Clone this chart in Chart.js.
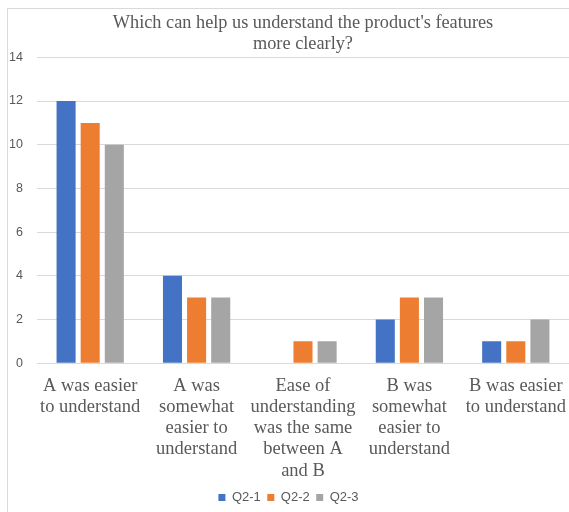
<!DOCTYPE html>
<html>
<head>
<meta charset="utf-8">
<script src="https://cdn.jsdelivr.net/npm/chart.js@4"></script>
<style>
html, body { margin: 0; padding: 0; background: #fff; }
#frame { position: absolute; left: 7px; top: 8px; width: 570px; height: 510px; border-left: 1px solid #d9d9d9; border-top: 1px solid #d9d9d9; }
#wrap { position: absolute; left: 0; top: 0; width: 569px; height: 512px; }
</style>
</head>
<body>
<div id="frame"></div>
<div id="wrap"><canvas id="c"></canvas></div>
<script>
const categories = [
  ['A was easier', 'to understand'],
  ['A was', 'somewhat', 'easier to', 'understand'],
  ['Ease of', 'understanding', 'was the same', 'between A', 'and B'],
  ['B was', 'somewhat', 'easier to', 'understand'],
  ['B was easier', 'to understand']
];
const seriesNames = ['Q2-1', 'Q2-2', 'Q2-3'];
const q21 = [12, 4, 0, 2, 1];
const q22 = [11, 3, 1, 3, 1];
const q23 = [10, 3, 1, 3, 2];
const colors = ['#4472c4', '#ed7d31', '#a5a5a5'];
const yTicks = [0, 2, 4, 6, 8, 10, 12, 14];

const serif = '"Liberation Serif", "DejaVu Serif", serif';
const sans = '"Liberation Sans", "DejaVu Sans", sans-serif';

const ctx = document.getElementById('c').getContext('2d');
new Chart(ctx, {
  type: 'bar',
  data: {
    labels: categories,
    datasets: [q21, q22, q23].map(function(d, i) {
      return { label: seriesNames[i], data: d, backgroundColor: colors[i], categoryPercentage: 0.68, barPercentage: 0.79 };
    })
  },
  options: {
    responsive: true, maintainAspectRatio: false, animation: false,
    layout: { padding: { left: 8, right: 0, top: 6, bottom: -2 } },
    plugins: {
      title: { display: true, fullSize: false, text: ["Which can help us understand the product's features", 'more clearly?'], color: '#595959', font: { family: serif, size: 18.3, weight: 'normal', lineHeight: 1.13 }, padding: { top: 7, bottom: 3 } },
      legend: { position: 'bottom', labels: { boxWidth: 7, boxHeight: 7, padding: 6.5, color: '#595959', font: { family: sans, size: 13 } } },
      tooltip: { enabled: false }
    },
    scales: {
      x: {
        grid: { display: false },
        border: { display: false },
        ticks: { color: '#595959', font: { family: serif, size: 18.5, lineHeight: 1.15 }, maxRotation: 0, autoSkip: false, padding: 4 },
        afterFit: function(axis) { axis.paddingLeft = 0; axis.paddingRight = 0; axis.height -= 1; }
      },
      y: {
        min: 0, max: 14,
        afterBuildTicks: function(axis) { axis.ticks = yTicks.map(function(v) { return { value: v }; }); },
        afterFit: function(axis) { axis.width = 29; },
        grid: { color: '#d9d9d9', drawTicks: false },
        border: { display: false },
        ticks: { color: '#595959', font: { family: sans, size: 12.5 }, padding: 14 }
      }
    }
  }
});
</script>
</body>
</html>
